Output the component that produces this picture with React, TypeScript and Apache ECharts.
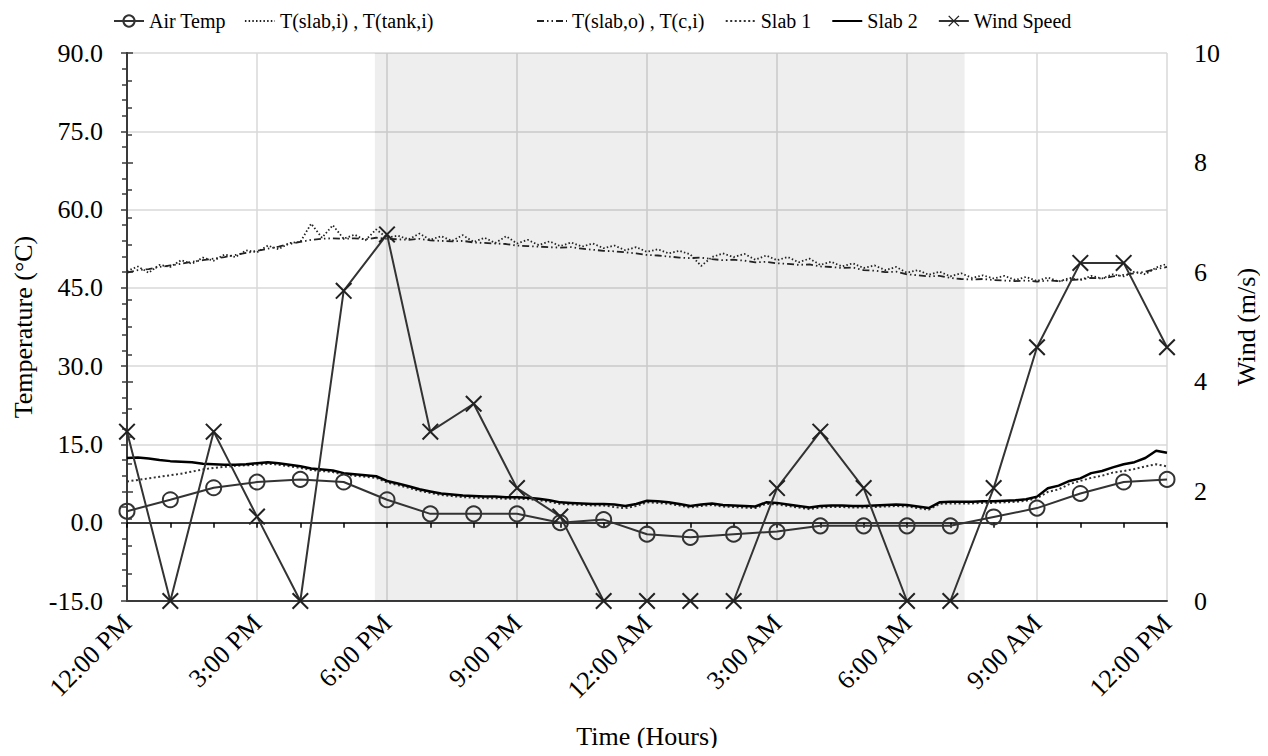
import React, { useEffect, useRef } from "react";
import * as echarts from "echarts";

// ---- Data ----
const xTickLabels = ["12:00 PM", "3:00 PM", "6:00 PM", "9:00 PM", "12:00 AM", "3:00 AM", "6:00 AM", "9:00 AM", "12:00 PM"];

// hourly readings, 12:00 PM -> 12:00 PM (25 values)
const airTemp = [2.2, 4.4, 6.7, 7.8, 8.3, 7.8, 4.4, 1.7, 1.7, 1.7, 0.0, 0.6, -2.2, -2.8, -2.2, -1.7, -0.6, -0.6, -0.6, -0.6, 1.1, 2.8, 5.6, 7.8, 8.3];
const windSpeed = [3.09, 0, 3.09, 1.54, 0, 5.66, 6.69, 3.09, 3.6, 2.06, 1.54, 0, 0, 0, 0, 2.06, 3.09, 2.06, 0, 0, 2.06, 4.63, 6.17, 6.17, 4.63];

// 15-minute readings (97 values)
const tSlabI = [
  48.2, 49.1, 47.9, 49.4,
  49.0, 50.3, 49.6, 50.8,
  50.2, 51.4, 50.9, 52.2,
  51.8, 53.1, 52.4, 53.6,
  53.8, 57.3, 54.6, 57.0,
  54.4, 55.2, 54.1, 56.2,
  54.6, 55.0, 54.3, 55.4,
  54.2, 54.9, 54.0, 55.1,
  53.8, 54.6, 53.6, 54.9,
  53.5, 54.2, 53.2, 53.9,
  53.0, 53.7, 52.9, 53.5,
  52.6, 53.1, 52.2, 52.8,
  51.9, 52.4, 51.6, 52.1,
  51.4, 49.2, 50.9, 51.6,
  50.9, 51.5, 50.4, 51.2,
  50.3, 50.9, 49.9, 50.6,
  49.4, 50.0, 49.1, 49.7,
  48.8, 49.3, 48.4, 49.0,
  47.9, 48.4, 47.5, 48.1,
  47.2, 47.8, 46.9, 47.4,
  46.8, 47.3, 46.5, 47.1,
  46.3, 47.0, 46.2, 46.9,
  46.5, 47.3, 46.8, 47.6,
  47.2, 48.1, 47.6, 48.9,
  49.6,
];
const tSlabO = [
  47.9, 48.4, 48.6, 49.0,
  49.3, 49.6, 50.0, 50.3,
  50.6, 50.9, 51.3, 51.7,
  52.1, 52.5, 52.9, 53.4,
  53.8, 54.2, 54.4, 54.5,
  54.4, 54.5, 54.3, 54.6,
  54.4, 54.3, 54.2, 54.4,
  54.1, 54.0, 53.9, 54.0,
  53.7, 53.6, 53.5, 53.4,
  53.1, 53.0, 52.9, 52.8,
  52.7, 52.8, 52.5, 52.3,
  52.1, 52.0, 51.8, 51.6,
  51.3, 51.2, 51.0, 50.8,
  50.7, 50.8, 50.5, 50.3,
  50.4, 50.2, 49.9, 50.0,
  49.7, 49.6, 49.4, 49.5,
  49.1, 49.0, 48.8, 48.9,
  48.4, 48.3, 48.0, 48.1,
  47.6, 47.4, 47.2, 47.3,
  46.9, 46.7, 46.6, 46.7,
  46.5, 46.4, 46.3, 46.4,
  46.2, 46.4, 46.3, 46.5,
  46.6, 46.9, 46.8, 47.2,
  47.5, 47.8, 48.1, 48.6,
  49.0,
];
const slab1 = [
  7.9, 8.2, 8.5, 8.8,
  9.1, 9.4, 9.8, 10.2,
  10.5, 10.7, 10.9, 11.0,
  11.1, 11.3, 11.1, 10.8,
  10.5, 10.1, 9.9, 9.7,
  9.2, 9.0, 8.8, 8.6,
  7.7, 7.2, 6.7, 6.1,
  5.7, 5.3, 5.1, 4.9,
  4.8, 4.7, 4.7, 4.6,
  4.6, 4.5, 4.3, 4.0,
  3.6, 3.5, 3.4, 3.3,
  3.3, 3.0, 2.8, 3.2,
  3.9, 3.8, 3.6, 3.3,
  2.9, 3.2, 3.4, 3.1,
  3.0, 2.9, 2.8, 3.6,
  3.5, 3.2, 2.9, 2.6,
  2.9, 3.0, 3.0, 2.9,
  2.9, 3.0, 3.1, 3.2,
  3.1, 2.8, 2.5, 3.6,
  3.7, 3.7, 3.7, 3.8,
  3.8, 3.9, 4.0, 4.2,
  4.7, 5.9, 6.4, 7.4,
  8.0, 8.6, 9.0, 9.6,
  9.9, 10.3, 10.8, 11.2,
  10.8,
];
const slab2 = [
  12.4, 12.5, 12.3, 12.0,
  11.8, 11.7, 11.6, 11.3,
  11.2, 11.1, 11.1, 11.2,
  11.4, 11.6, 11.4, 11.1,
  10.8, 10.4, 10.2, 10.0,
  9.5, 9.3, 9.1, 8.9,
  8.0, 7.5, 7.0, 6.4,
  6.0, 5.6, 5.4, 5.2,
  5.1, 5.0, 5.0, 4.9,
  4.9, 4.8, 4.6, 4.3,
  3.9, 3.8, 3.7, 3.6,
  3.6, 3.5, 3.2, 3.6,
  4.2, 4.1, 3.9, 3.6,
  3.2, 3.5, 3.7, 3.4,
  3.3, 3.2, 3.1, 3.9,
  3.8, 3.5, 3.2, 2.9,
  3.2, 3.3, 3.3, 3.2,
  3.2, 3.3, 3.4, 3.5,
  3.4, 3.1, 2.8, 3.9,
  4.0, 4.0, 4.0, 4.1,
  4.1, 4.2, 4.3, 4.5,
  5.0, 6.6, 7.1, 8.0,
  8.5, 9.5, 9.9, 10.6,
  11.2, 11.6, 12.4, 13.8,
  13.4,
];

// night (shaded) window, hours after 12:00 PM
const nightStart = 5.72;
const nightEnd = 19.33;

const FONT = "'Liberation Serif', 'Times New Roman', serif";
const X_SYMBOL = "path://M0,1.7L1.7,0L20,18.3L18.3,20Z M18.3,0L20,1.7L1.7,20L0,18.3Z";

const hourly = (arr: number[]) => arr.map((v, i) => [i, v]);
const quarterly = (arr: number[]) => arr.map((v, i) => [i / 4, v]);

export default function App() {
  const ref = useRef<HTMLDivElement>(null);
  useEffect(() => {
    if (!ref.current) return;
    const chart = echarts.init(ref.current, undefined, { renderer: "svg" });
    const axisColor = "#3a3a3a";
    const gridColor = "#d9d9d9";
    const noSym = { opacity: 0 };
    const legendBase = {
      top: 6,
      itemWidth: 30,
      itemHeight: 14,
      textStyle: { fontFamily: FONT, fontSize: 20, color: "#000" },
    };
    chart.setOption({
      animation: false,
      backgroundColor: "#ffffff",
      textStyle: { fontFamily: FONT, color: "#000" },
      legend: [
        {
          ...legendBase,
          left: 108,
          itemGap: 18,
          data: [{ name: "Air Temp" }, { name: "T(slab,i) , T(tank,i)", itemStyle: noSym }],
        },
        {
          ...legendBase,
          left: 531,
          itemGap: 20,
          data: [
            { name: "T(slab,o) , T(c,i)", itemStyle: noSym },
            { name: "Slab 1", itemStyle: noSym },
            { name: "Slab 2", itemStyle: noSym },
            { name: "Wind Speed" },
          ],
        },
      ],
      grid: { left: 127, right: 101, top: 53, bottom: 155, containLabel: false },
      xAxis: [
        {
          type: "value",
          min: 0,
          max: 24,
          interval: 3,
          position: "bottom",
          name: "Time (Hours)",
          nameLocation: "middle",
          nameGap: 122,
          nameTextStyle: { fontFamily: FONT, fontSize: 26, color: "#000" },
          axisLine: { show: true, onZero: false, lineStyle: { color: axisColor, width: 2 } },
          axisTick: { show: false },
          axisLabel: {
            rotate: 45,
            margin: 18,
            fontFamily: FONT,
            fontSize: 26,
            color: "#000",
            formatter: (v: number) => xTickLabels[Math.round(v / 3)] ?? "",
          },
          splitLine: { show: true, lineStyle: { color: gridColor, width: 1.5 } },
        },
        {
          type: "value",
          min: 0,
          max: 24,
          interval: 1,
          position: "bottom",
          axisLine: { show: true, onZero: true, onZeroAxisIndex: 0, lineStyle: { color: "#000", width: 1.5 } },
          axisTick: { show: true, length: 5, lineStyle: { color: "#000", width: 1.5 } },
          axisLabel: { show: false },
          splitLine: { show: false },
        },
      ],
      yAxis: [
        {
          type: "value",
          min: -15,
          max: 90,
          interval: 15,
          name: "Temperature (°C)",
          nameLocation: "middle",
          nameRotate: 90,
          nameGap: 91,
          nameTextStyle: { fontFamily: FONT, fontSize: 26, color: "#000" },
          axisLine: { show: true, lineStyle: { color: axisColor, width: 2 } },
          axisTick: { show: true, length: 6, lineStyle: { color: axisColor, width: 1.5 } },
          minorTick: { show: true, splitNumber: 5, length: 5, lineStyle: { color: axisColor, width: 1.5 } },
          axisLabel: {
            margin: 24,
            fontFamily: FONT,
            fontSize: 26,
            color: "#000",
            formatter: (v: number) => v.toFixed(1),
          },
          splitLine: { show: true, lineStyle: { color: gridColor, width: 1.5 } },
        },
        {
          type: "value",
          min: 0,
          max: 10,
          interval: 2,
          position: "right",
          name: "Wind (m/s)",
          nameLocation: "middle",
          nameRotate: 90,
          nameGap: 66,
          nameTextStyle: { fontFamily: FONT, fontSize: 26, color: "#000" },
          axisLine: { show: true, lineStyle: { color: axisColor, width: 2 } },
          axisTick: { show: true, length: 6, lineStyle: { color: axisColor, width: 1.5 } },
          minorTick: { show: true, splitNumber: 4, length: 5, lineStyle: { color: axisColor, width: 1.5 } },
          axisLabel: { margin: 27, fontFamily: FONT, fontSize: 26, color: "#000" },
          splitLine: { show: false },
        },
      ],
      series: [
        {
          name: "Air Temp",
          type: "line",
          xAxisIndex: 0,
          yAxisIndex: 0,
          data: hourly(airTemp),
          symbol: "circle",
          symbolSize: 15,
          itemStyle: { color: "rgba(255,255,255,0)", borderColor: "#333", borderWidth: 2 },
          lineStyle: { color: "#333", width: 2 },
          z: 5,
          markArea: {
            silent: true,
            itemStyle: { color: "rgba(0,0,0,0.065)" },
            data: [[{ xAxis: nightStart }, { xAxis: nightEnd }]],
          },
        },
        {
          name: "T(slab,i) , T(tank,i)",
          type: "line",
          data: quarterly(tSlabI),
          showSymbol: false,
          symbol: "none",
          itemStyle: { color: "#222" },
          lineStyle: { color: "#222", width: 1.8, type: [1.5, 2.2] },
          z: 3,
        },
        {
          name: "T(slab,o) , T(c,i)",
          type: "line",
          data: quarterly(tSlabO),
          showSymbol: false,
          symbol: "none",
          itemStyle: { color: "#222" },
          lineStyle: { color: "#222", width: 1.8, type: [7, 3, 1.5, 3, 1.5, 3] },
          z: 3,
        },
        {
          name: "Slab 1",
          type: "line",
          data: quarterly(slab1),
          showSymbol: false,
          symbol: "none",
          itemStyle: { color: "#333" },
          lineStyle: { color: "#333", width: 2, type: [2, 2.5] },
          z: 3,
        },
        {
          name: "Slab 2",
          type: "line",
          data: quarterly(slab2),
          showSymbol: false,
          symbol: "none",
          itemStyle: { color: "#000" },
          lineStyle: { color: "#000", width: 2.5 },
          z: 4,
        },
        {
          name: "Wind Speed",
          type: "line",
          yAxisIndex: 1,
          data: hourly(windSpeed),
          symbol: X_SYMBOL,
          symbolSize: 17,
          itemStyle: { color: "#222" },
          lineStyle: { color: "#333", width: 2 },
          z: 6,
        },
      ],
    });
    return () => chart.dispose();
  }, []);
  return <div ref={ref} style={{ width: 1268, height: 756, margin: -8 }} />;
}
